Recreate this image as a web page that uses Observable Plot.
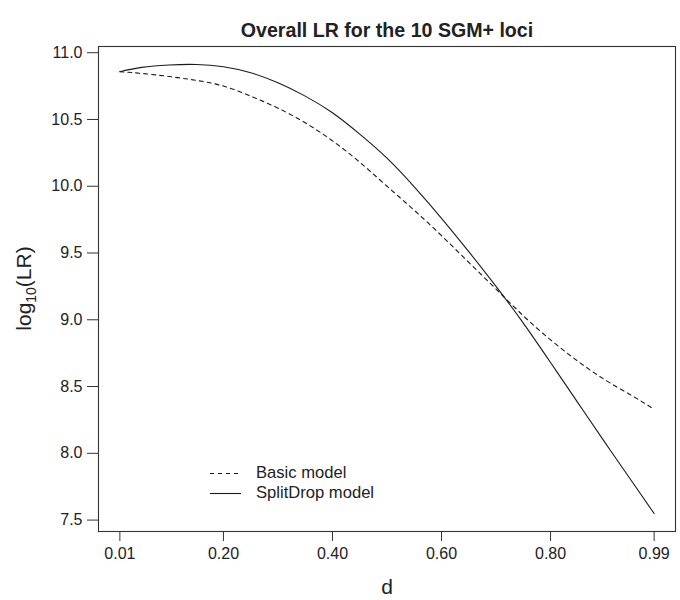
<!DOCTYPE html>
<html>
<head>
<meta charset="utf-8">
<script src="https://cdn.jsdelivr.net/npm/d3@7"></script>
<script src="https://cdn.jsdelivr.net/npm/@observablehq/plot@0.6"></script>
<style>
  body { margin: 0; background: #fff; }
  #wrap { position: relative; width: 680px; height: 600px; font-family: "Liberation Sans", Arial, sans-serif; color: #222; }
  #legend { position: absolute; left: 210px; top: 463px; font-size: 16.6px; line-height: 20px; }
  #legend .row { display: flex; align-items: center; height: 20px; }
  #legend svg { margin-right: 15px; }
</style>
</head>
<body>
<div id="wrap"></div>
<script>
const title = "Overall LR for the 10 SGM+ loci";
const xLabel = "d";
const seriesNames = ["Basic model", "SplitDrop model"];
const dValues = [0.01, 0.05, 0.10, 0.15, 0.20, 0.25, 0.30, 0.35, 0.40, 0.45, 0.50,
                 0.55, 0.60, 0.65, 0.70, 0.75, 0.80, 0.85, 0.90, 0.95, 0.99];
const basicLR = [10.858, 10.845, 10.822, 10.793, 10.75, 10.675, 10.585, 10.475, 10.34, 10.18, 10.00,
                 9.82, 9.63, 9.43, 9.23, 9.03, 8.85, 8.69, 8.55, 8.43, 8.33];
const splitDropLR = [10.858, 10.89, 10.908, 10.912, 10.895, 10.85, 10.775, 10.675, 10.55, 10.39, 10.21,
                     9.995, 9.76, 9.51, 9.25, 8.975, 8.68, 8.38, 8.08, 7.785, 7.549];
const xTicks = [0.01, 0.20, 0.40, 0.60, 0.80, 0.99];
const yTicks = [7.5, 8.0, 8.5, 9.0, 9.5, 10.0, 10.5, 11.0];

const basicData = dValues.map((d, i) => ({d, v: basicLR[i]}));
const splitData = dValues.map((d, i) => ({d, v: splitDropLR[i]}));

// R-style 4% axis extension
function ext(lo, hi) { const r = hi - lo; return [lo - 0.04 * r, hi + 0.04 * r]; }
const xDom = ext(d3.min(dValues), d3.max(dValues));
const yDom = ext(d3.min([...basicLR, ...splitDropLR]), d3.max([...basicLR, ...splitDropLR]));

const ink = "#1a1a1a";
const font = "'Liberation Sans', Arial, sans-serif";
const chart = Plot.plot({
  width: 680,
  height: 600,
  marginLeft: 98,
  marginRight: 5,
  marginTop: 46,
  marginBottom: 69,
  style: { fontFamily: font, fontSize: "16px", color: "#222", background: "#fff" },
  x: { domain: xDom },
  y: { domain: yDom },
  marks: [
    Plot.axisX({ ticks: xTicks, tickFormat: d3.format(".2f"), tickSize: 10, tickPadding: 6, fontSize: 16, label: null, stroke: "#333" }),
    Plot.axisY({ ticks: yTicks, tickFormat: d3.format(".1f"), tickSize: 11, tickPadding: 5, fontSize: 16, label: null, stroke: "#333" }),
    Plot.frame({ stroke: "#333", strokeWidth: 1.1 }),
    Plot.line(basicData, { x: "d", y: "v", stroke: ink, strokeWidth: 1.1, strokeDasharray: "4,4", curve: "natural" }),
    Plot.line(splitData, { x: "d", y: "v", stroke: ink, strokeWidth: 1.1, curve: "natural" }),
    Plot.text([title], { frameAnchor: "top", dy: -23, fontSize: 19.6, fontWeight: "bold", fill: "#222" }),
    Plot.text([xLabel], { frameAnchor: "bottom", dy: 62, fontSize: 21, fill: "#222" })
  ]
});

const svg = d3.select(chart);
// R-like size for numeric tick labels
svg.selectAll("text").each(function () {
  if (/^\d+\.\d+$/.test(this.textContent.trim())) {
    this.setAttribute("font-size", "16");
  }
});

// y-axis label with real subscript
const yl = svg.append("text")
  .attr("transform", "translate(31,288.5) rotate(-90)")
  .attr("text-anchor", "middle")
  .attr("font-size", 21)
  .attr("fill", "#222")
  .attr("font-family", font);
yl.append("tspan").text("log");
yl.append("tspan").attr("font-size", 14).attr("dy", 5).text("10");
yl.append("tspan").attr("dy", -5).text("(LR)");

const wrap = document.getElementById("wrap");
wrap.appendChild(chart);

// legend
const legend = document.createElement("div");
legend.id = "legend";
const dashes = ["4,4", null];
seriesNames.forEach((name, i) => {
  const row = document.createElement("div");
  row.className = "row";
  const s = d3.create("svg").attr("width", 31).attr("height", 20);
  const ln = s.append("line").attr("x1", 0).attr("x2", 31).attr("y1", 10.5).attr("y2", 10.5)
    .attr("stroke", ink).attr("stroke-width", 1.1);
  if (dashes[i]) ln.attr("stroke-dasharray", dashes[i]);
  row.appendChild(s.node());
  const t = document.createElement("span");
  t.textContent = name;
  row.appendChild(t);
  legend.appendChild(row);
});
wrap.appendChild(legend);
</script>
</body>
</html>
